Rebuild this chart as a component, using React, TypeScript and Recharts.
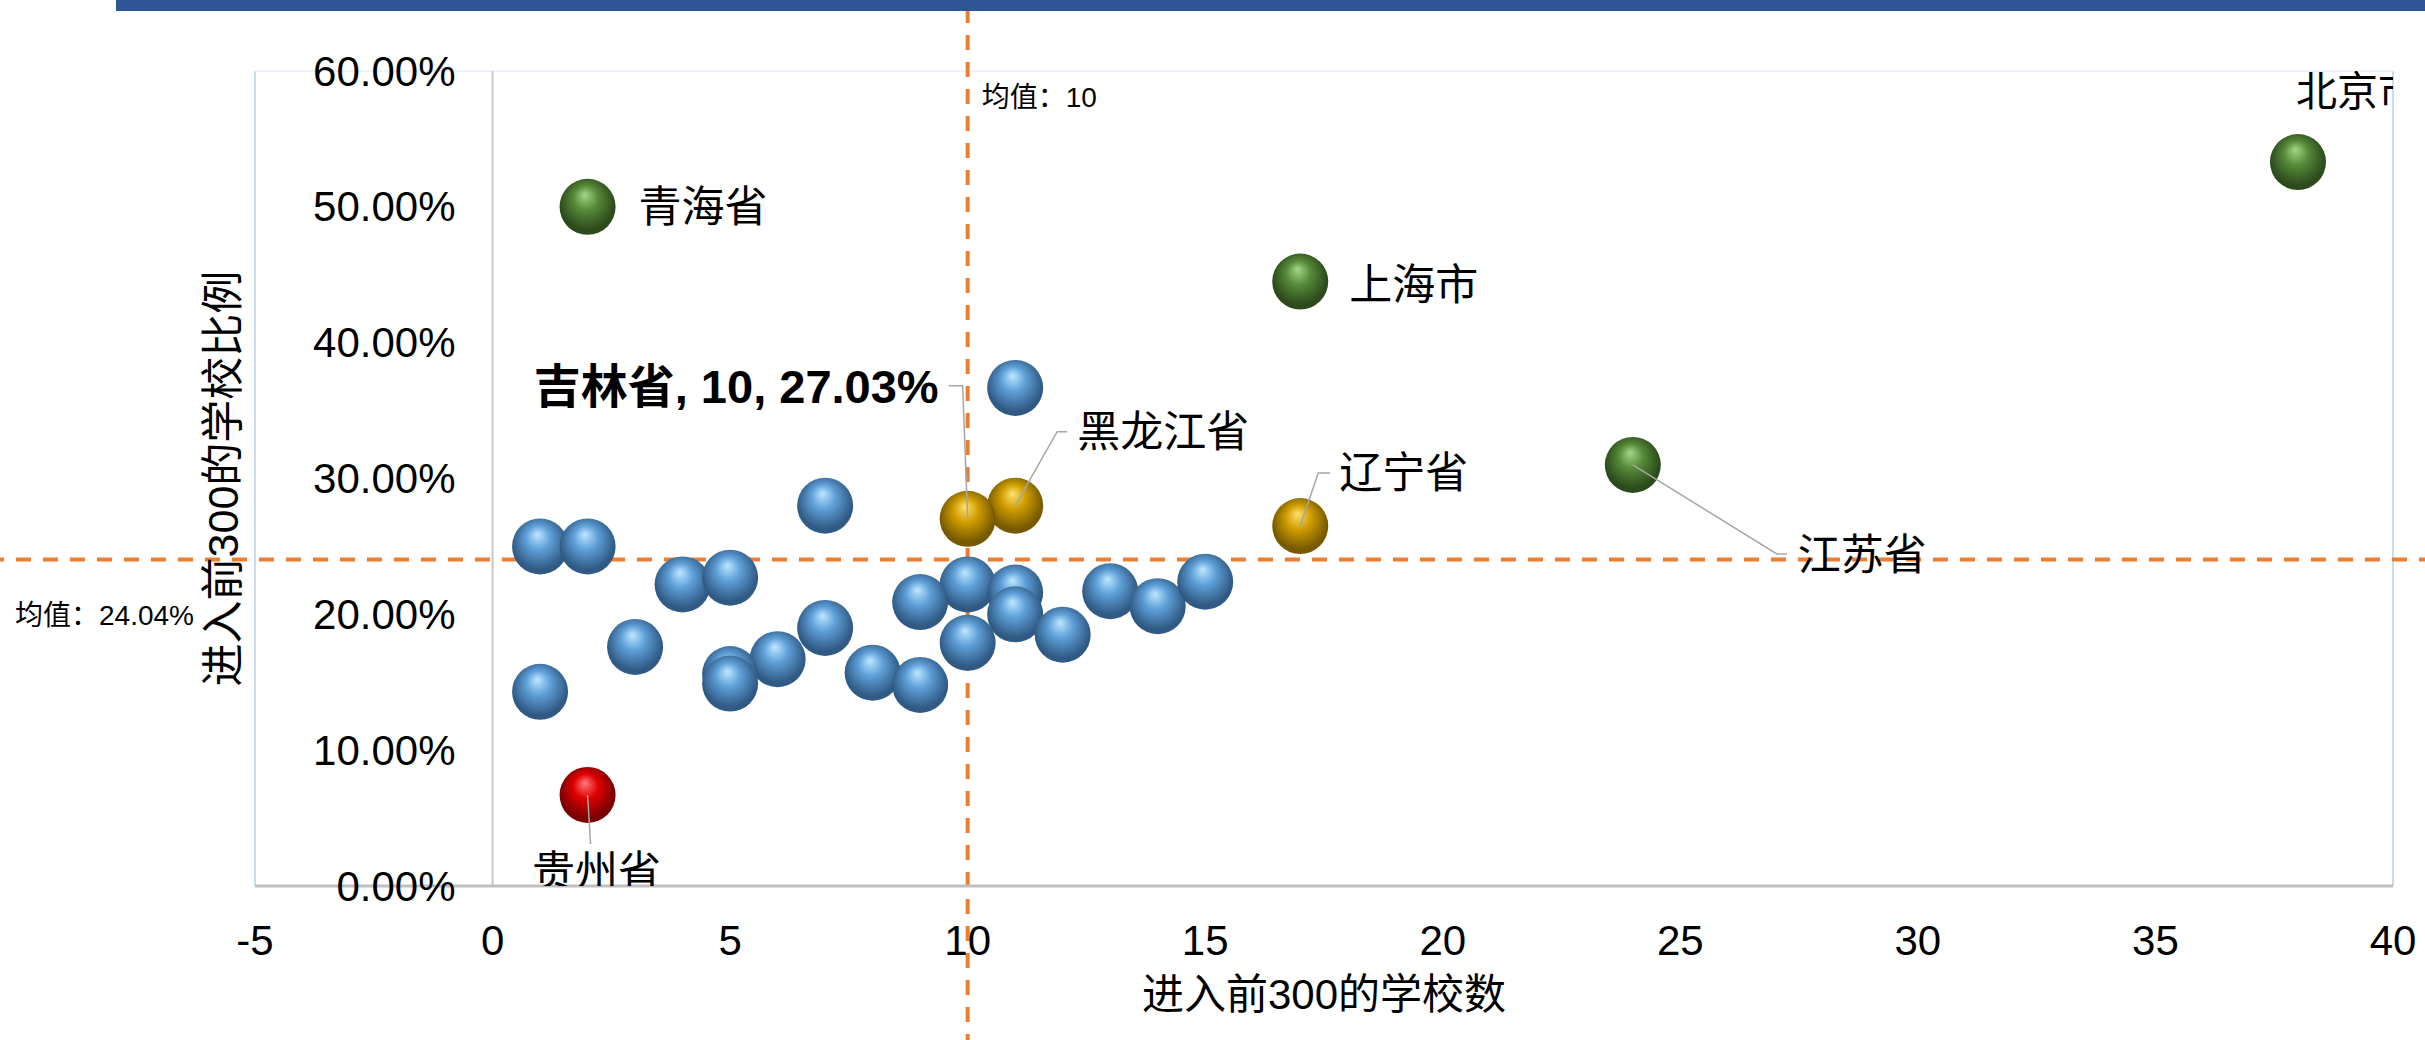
import React from "react";
import { ReferenceLine, Scatter, ScatterChart, XAxis, YAxis } from "recharts";

// 31 provinces: schools in the top 300 (x) and share of the province's schools (y, %)
const blueCount = [11, 7, 1, 2, 4, 5, 10, 9, 11, 11, 13, 14, 15, 12, 10, 3, 7, 6, 5, 5, 8, 9, 1];
const blueRatio = [
	36.67, 28.0, 25.0, 25.0, 22.2, 22.7, 22.2, 20.9, 21.6, 20.0, 21.7, 20.6, 22.4,
	18.5, 17.9, 17.6, 19.0, 16.7, 15.6, 14.9, 15.7, 14.8, 14.3,
];

const greenNames = ["北京市", "青海省", "上海市", "江苏省"];
const greenCount = [38, 2, 17, 24];
const greenRatio = [53.3, 50.0, 44.5, 31.0];

const goldNames = ["辽宁省", "黑龙江省", "吉林省"];
const goldCount = [17, 11, 10];
const goldRatio = [26.5, 28.0, 27.03];

const redNames = ["贵州省"];
const redCount = [2];
const redRatio = [6.7];

const xTicks = [-5, 0, 5, 10, 15, 20, 25, 30, 35, 40];
const yTicks = [0, 10, 20, 30, 40, 50, 60];
const meanCount = 10;
const meanRatio = 24.04;

// layout
const W = 2425;
const H = 1040;
const MARGIN = { top: 71, right: 32, bottom: 0, left: 0 };
const Y_AXIS_W = 255;
const X_AXIS_H = 154;
const PLOT_W = W - MARGIN.left - MARGIN.right - Y_AXIS_W;
const X_ZERO_PX = MARGIN.left + Y_AXIS_W + (PLOT_W * 5) / 45;

const NUM_FONT = "'Liberation Sans', Arial, sans-serif";
const CJK_FONT = "'Liberation Sans', 'Noto Sans CJK SC', sans-serif";

// label offsets relative to each ball's centre (px)
const labelLayout: Record<
	string,
	{
		dx: number;
		dy: number;
		anchor?: string;
		leader?: number[][];
		bold?: boolean;
		size?: number;
	}
> = {
	北京市: { dx: -2, dy: -70, size: 41 },
	青海省: { dx: 51, dy: 0 },
	上海市: { dx: 49, dy: 3 },
	江苏省: { dx: 165, dy: 90, leader: [[144, 89], [154, 89]] },
	辽宁省: { dx: 39, dy: -53, leader: [[18, -53], [30, -53]] },
	黑龙江省: { dx: 62, dy: -74, leader: [[42, -74], [52, -74]] },
	吉林省: {
		dx: -29,
		dy: -132,
		anchor: "end",
		bold: true,
		size: 47,
		leader: [[-5, -133], [-19, -133]],
	},
	贵州省: { dx: 9, dy: 77, anchor: "middle", leader: [[3, 49]] },
};

const toPoints = (xs: number[], ys: number[], names?: string[]) =>
	xs.map((x, i) => ({ x, y: ys[i], name: names ? names[i] : undefined }));

const blueData = toPoints(blueCount, blueRatio);
const greenData = toPoints(greenCount, greenRatio, greenNames);
const goldData = toPoints(goldCount, goldRatio, goldNames);
const redData = toPoints(redCount, redRatio, redNames);

const makeBall = (grad: string) => (props: any) => {
	const { cx, cy, payload } = props;
	if (cx == null || cy == null) return <g />;
	const lay = payload?.name ? labelLayout[payload.name] : undefined;
	let text = payload?.name;
	if (lay?.bold) text = `${payload.name}, ${payload.x}, ${payload.y.toFixed(2)}%`;
	return (
		<g>
			<ellipse cx={cx} cy={cy} rx={28} ry={28} fill={`url(#${grad})`} />
			{lay?.leader && (
				<polyline
					points={[[0, 0], ...lay.leader]
						.map(([x, y]) => `${cx + x},${cy + y}`)
						.join(" ")}
					fill="none"
					stroke="#A6A6A6"
					strokeWidth={1.5}
				/>
			)}
			{lay && (
				<text
					x={cx + lay.dx}
					y={cy + lay.dy}
					textAnchor={lay.anchor ?? "start"}
					dominantBaseline="central"
					fontSize={lay.size ?? 43}
					fontWeight={lay.bold ? 700 : 400}
					fontFamily={CJK_FONT}
					fill="#000"
				>
					{text}
				</text>
			)}
		</g>
	);
};

const XTick = (props: any) => {
	const { x, payload } = props;
	return (
		<text
			x={x}
			y={940}
			textAnchor="middle"
			dominantBaseline="central"
			fontSize={42}
			fontFamily={NUM_FONT}
			fill="#000"
		>
			{payload.value}
		</text>
	);
};

const YTick = (props: any) => {
	const { y, payload } = props;
	return (
		<text
			x={X_ZERO_PX - 37}
			y={y}
			textAnchor="end"
			dominantBaseline="central"
			fontSize={42}
			fontFamily={NUM_FONT}
			fill="#000"
		>
			{`${Number(payload.value).toFixed(2)}%`}
		</text>
	);
};

function Gradient({ id, hi, mid, dark }: { id: string; hi: string; mid: string; dark: string }) {
	return (
		<radialGradient id={id} cx="50%" cy="45%" r="58%" fx="45%" fy="28%">
			<stop offset="0%" stopColor={hi} />
			<stop offset="38%" stopColor={mid} />
			<stop offset="85%" stopColor={dark} />
			<stop offset="100%" stopColor={dark} />
		</radialGradient>
	);
}

export default function App() {
	return (
		<div
			style={{
				position: "absolute",
				left: 0,
				top: 0,
				width: W,
				height: H,
				background: "#fff",
				overflow: "hidden",
			}}
		>
			<svg width={0} height={0} style={{ position: "absolute" }}>
				<defs>
					<Gradient id="ball-blue" hi="#BDE8FF" mid="#5E9FD8" dark="#305A84" />
					<Gradient id="ball-green" hi="#A6D68A" mid="#568A38" dark="#2C4A1C" />
					<Gradient id="ball-gold" hi="#FFE070" mid="#D09E00" dark="#775A00" />
					<Gradient id="ball-red" hi="#FF7A7A" mid="#E00000" dark="#7A0000" />
				</defs>
			</svg>
			<ScatterChart width={W} height={H} margin={MARGIN}>
				<XAxis
					type="number"
					dataKey="x"
					domain={[-5, 40]}
					ticks={xTicks}
					interval={0}
					allowDataOverflow
					height={X_AXIS_H}
					axisLine={{ stroke: "#BFBFBF", strokeWidth: 3 }}
					tickLine={false}
					tick={<XTick />}
					label={(p: any) => (
						<text
							x={p.viewBox.x + p.viewBox.width / 2}
							y={994}
							textAnchor="middle"
							dominantBaseline="central"
							fontSize={42}
							fontFamily={CJK_FONT}
							fill="#000"
						>
							进入前300的学校数
						</text>
					)}
				/>
				<YAxis
					type="number"
					dataKey="y"
					domain={[0, 60]}
					ticks={yTicks}
					interval={0}
					allowDataOverflow
					width={Y_AXIS_W}
					axisLine={false}
					tickLine={false}
					tick={<YTick />}
					label={(p: any) => {
						const cy = p.viewBox.y + p.viewBox.height / 2;
						return (
							<text
								transform={`translate(223, ${cy}) rotate(-90)`}
								textAnchor="middle"
								dominantBaseline="central"
								fontSize={43}
								fontFamily={CJK_FONT}
								fill="#000"
							>
								进入前300的学校比例
							</text>
						);
					}}
				/>
				<ReferenceLine x={-5} stroke="#C9DDF0" strokeWidth={2} />
				<ReferenceLine x={40} stroke="#C9DDF0" strokeWidth={2} />
				<ReferenceLine y={60} stroke="#EEF3F9" strokeWidth={2} />
				<ReferenceLine x={0} stroke="#C8C8C8" strokeWidth={2} />
				<Scatter data={blueData} isAnimationActive={false} shape={makeBall("ball-blue")} />
				<Scatter data={greenData} isAnimationActive={false} shape={makeBall("ball-green")} />
				<Scatter data={goldData} isAnimationActive={false} shape={makeBall("ball-gold")} />
				<Scatter data={redData} isAnimationActive={false} shape={makeBall("ball-red")} />
				<ReferenceLine
					segment={[
						{ x: meanCount, y: -12 },
						{ x: meanCount, y: 66 },
					]}
					ifOverflow="visible"
					stroke="#ED7D31"
					strokeWidth={4}
					strokeDasharray="15 12"
					label={(p: any) => (
						<text
							x={p.viewBox.x + 14}
							y={97}
							dominantBaseline="central"
							fontSize={28}
							fontFamily={CJK_FONT}
							fill="#000"
						>
							{`均值：${meanCount}`}
						</text>
					)}
				/>
				<ReferenceLine
					segment={[
						{ x: -10.6, y: meanRatio },
						{ x: 41, y: meanRatio },
					]}
					ifOverflow="visible"
					stroke="#ED7D31"
					strokeWidth={4}
					strokeDasharray="15 12"
					label={(p: any) => (
						<text
							x={15}
							y={p.viewBox.y + 56}
							dominantBaseline="central"
							fontSize={28}
							fontFamily={CJK_FONT}
							fill="#000"
						>
							{`均值：${meanRatio.toFixed(2)}%`}
						</text>
					)}
				/>
			</ScatterChart>
			<div
				style={{
					position: "absolute",
					left: 116,
					top: 0,
					width: W - 116,
					height: 11,
					background: "#2F5597",
				}}
			/>
		</div>
	);
}
